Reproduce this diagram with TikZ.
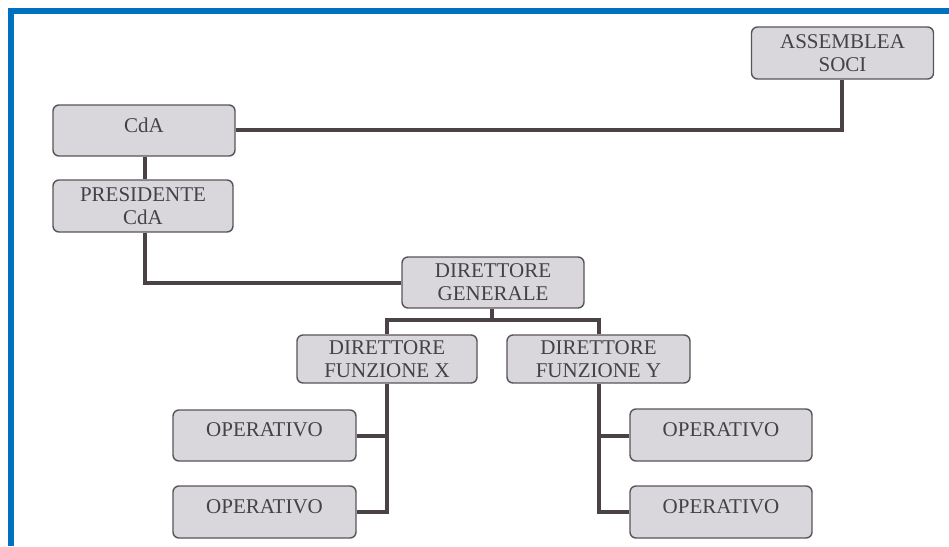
\documentclass[tikz,border=0pt]{standalone}
\usepackage{fontspec}
\setmainfont{Liberation Serif}
\usetikzlibrary{backgrounds}
\definecolor{boxfill}{HTML}{D9D7DC}
\definecolor{boxdraw}{HTML}{58545A}
\definecolor{linecol}{HTML}{4A4247}
\definecolor{txtcol}{HTML}{454247}
\definecolor{frameblue}{HTML}{0070C0}
\tikzset{
  orgbox/.style={draw=boxdraw, line width=1.4pt, fill=boxfill, rounded corners=6pt,
    inner sep=0pt, align=center, text=txtcol,
    font=\fontsize{21}{23}\selectfont},
  link/.style={draw=linecol, line width=4pt}
}
\begin{document}
\begin{tikzpicture}[x=1pt,y=-1pt]
\useasboundingbox (0,0) rectangle (949,546);
\fill[frameblue] (8,8) rectangle (949,14);
\fill[frameblue] (8,8) rectangle (14,546);
% boxes
\node[orgbox, minimum width=182pt, minimum height=52pt] (ass) at (842.5,53) {ASSEMBLEA\\SOCI};
\node[orgbox, minimum width=182pt, minimum height=51pt] (cda) at (144,130.5) {\raisebox{11pt}{CdA}};
\node[orgbox, minimum width=180pt, minimum height=52pt] (pres) at (143,206) {\raisebox{-2pt}{PRESIDENTE}\\\raisebox{-2pt}{CdA}};
\node[orgbox, minimum width=182pt, minimum height=51pt] (dg) at (493,282.5) {DIRETTORE\\GENERALE};
\node[orgbox, minimum width=180pt, minimum height=48pt] (fx) at (387,359) {DIRETTORE\\FUNZIONE X};
\node[orgbox, minimum width=183pt, minimum height=48pt] (fy) at (598.5,359) {DIRETTORE\\FUNZIONE Y};
\node[orgbox, minimum width=183pt, minimum height=51pt] (ox1) at (264.5,435.5) {\raisebox{11pt}{OPERATIVO}};
\node[orgbox, minimum width=183pt, minimum height=52pt] (ox2) at (264.5,512) {\raisebox{11pt}{OPERATIVO}};
\node[orgbox, minimum width=182pt, minimum height=52pt] (oy1) at (721,435) {\raisebox{11pt}{OPERATIVO}};
\node[orgbox, minimum width=182pt, minimum height=52pt] (oy2) at (721,512) {\raisebox{11pt}{OPERATIVO}};
% connectors
\coordinate (j1) at (842,130);
\coordinate (j2) at (145,283);
\coordinate (jdg) at (492,320);
\coordinate (jx) at (387,320);
\coordinate (jy) at (599,320);
\coordinate (vx) at (387,512);
\coordinate (vy) at (599,512);
\begin{scope}[on background layer]
\draw[link] (cda.east |- j1) -- (j1) -- (j1 |- ass.south);
\draw[link] (j2 |- cda.south) -- (j2 |- pres.north);
\draw[link] (j2 |- pres.south) -- (j2) -- (dg.west |- j2);
\draw[link] (jdg |- dg.south) -- (jdg);
\draw[link] (jx |- fx.north) -- (jx) -- (jy) -- (jy |- fy.north);
\draw[link] (jx |- fx.south) -- (vx) -- (ox2.east |- vx);
\draw[link] (ox1.east |- 0,436) -- (387,436);
\draw[link] (jy |- fy.south) -- (vy) -- (oy2.west |- vy);
\draw[link] (oy1.west |- 0,436) -- (599,436);
\end{scope}
\end{tikzpicture}
\end{document}
